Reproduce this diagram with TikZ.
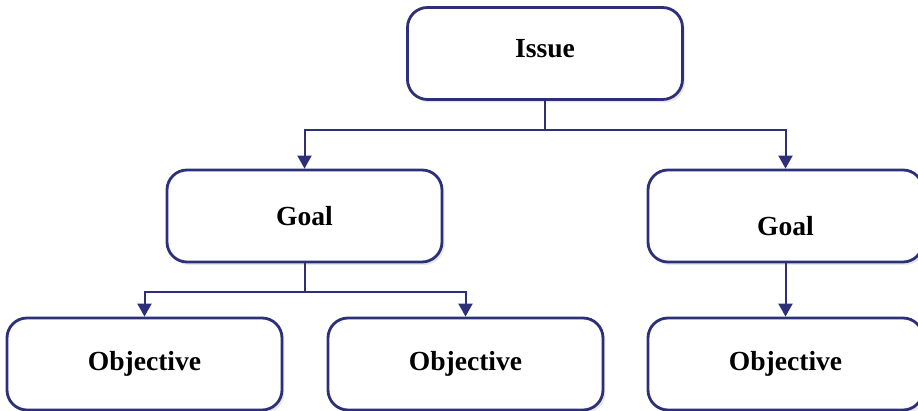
\documentclass[tikz,border=0pt]{standalone}
\usepackage{fontspec}
\setmainfont{Liberation Serif}
\usetikzlibrary{arrows.meta,shadows}
\definecolor{navy}{RGB}{45,47,120}
\tikzset{
  box/.style={draw=navy, line width=1.4pt, fill=white, rounded corners=10pt,
    minimum width=137.5pt, minimum height=46pt, inner sep=0pt,
    font=\bfseries\fontsize{13.8pt}{16pt}\selectfont,
    drop shadow={shadow xshift=1.2pt, shadow yshift=-1.5pt, opacity=0.18, fill=gray}},
  lbl/.style={font=\bfseries\fontsize{13.8pt}{16pt}\selectfont, inner sep=0pt},
  link/.style={draw=navy, line width=1pt},
  arr/.style={link, -{Triangle[width=7pt,length=6.5pt]}}
}
\begin{document}
\begin{tikzpicture}[x=0.5pt,y=-0.5pt]
      \useasboundingbox (0,0) rectangle (918,411);
      \node[box, label={[lbl, yshift=2.5pt]center:Issue}] (issue) at (545,53.5) {};
      \node[box] (goalL) at (304.5,216) {Goal};
      \node[box, label={[lbl, yshift=-5pt]center:Goal}] (goalR) at (785.5,216) {};
      \node[box] (objA) at (144.5,364) {Objective};
      \node[box] (objB) at (465.5,364) {Objective};
      \node[box] (objC) at (785.5,364) {Objective};
      \coordinate (split1) at (545,130);
      \coordinate (split2) at (304.5,292);
      \draw[link] (issue.south) -- (split1);
      \draw[arr] (split1) -| (goalL.north);
      \draw[arr] (split1) -| (goalR.north);
      \draw[link] (goalL.south) -- (split2);
      \draw[arr] (split2) -| (objA.north);
      \draw[arr] (split2) -| (objB.north);
      \draw[arr] (goalR.south) -- (objC.north);
\end{tikzpicture}
\end{document}
